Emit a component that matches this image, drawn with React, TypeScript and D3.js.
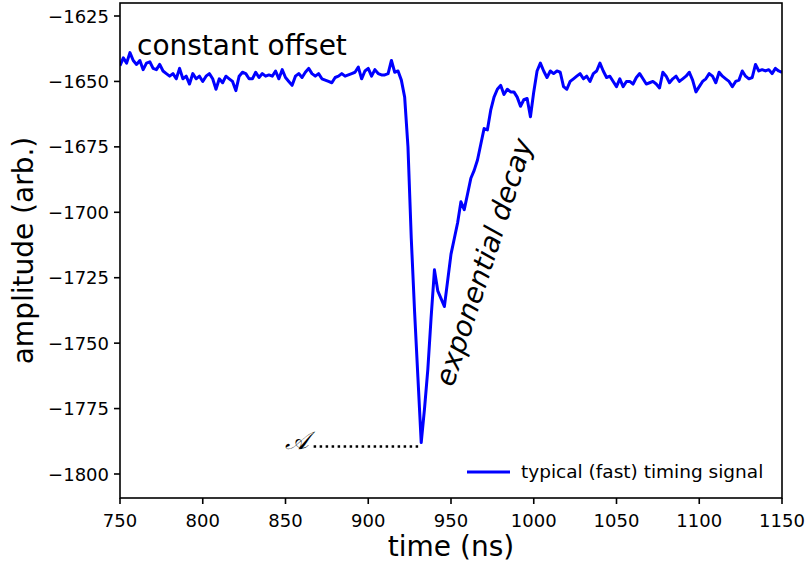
import React from "react";
import * as d3 from "d3";

const amplitude: number[] = [
  -1644, -1641, -1643, -1639, -1642, -1643.5, -1642, -1645.5, -1643, -1642.5,
  -1645, -1645.5, -1643.5, -1646, -1647, -1648, -1647, -1649, -1645, -1649,
  -1648, -1651, -1647, -1649, -1648, -1650, -1648, -1647, -1649, -1653,
  -1649, -1650.5, -1648, -1649, -1650, -1653.5, -1648, -1646.5, -1647, -1649,
  -1649, -1646.5, -1648.5, -1647, -1648, -1647.5, -1648, -1646, -1649, -1645.5,
  -1648.5, -1650, -1651.5, -1648, -1647, -1648.5, -1646.5, -1645, -1647, -1648,
  -1647, -1649, -1649.5, -1650, -1650.5, -1648.5, -1648, -1647, -1648, -1647.5,
  -1647, -1646.5, -1644.5, -1649, -1646, -1645, -1648, -1645.5, -1647, -1647.5,
  -1647.5, -1647, -1642, -1646.5, -1646, -1649.5, -1656, -1675, -1710, -1738,
  -1763, -1788, -1775, -1760, -1740, -1722, -1730, -1733, -1736, -1726,
  -1716, -1710, -1704, -1696, -1699, -1693, -1687, -1684, -1680, -1674,
  -1668, -1668.5, -1661, -1656, -1653, -1651.5, -1655, -1653, -1654, -1654,
  -1656, -1659.5, -1657, -1656.5, -1663.5, -1654, -1646, -1643, -1646, -1648.5,
  -1646, -1647, -1646, -1646.5, -1652, -1653, -1650, -1649, -1648, -1647,
  -1649, -1648, -1650, -1647, -1646, -1643, -1646, -1648.5, -1648, -1650,
  -1652, -1649, -1652, -1650, -1650, -1651, -1648.5, -1647, -1649, -1651,
  -1650.5, -1650, -1651, -1652.5, -1646.5, -1648, -1650.5, -1649, -1648, -1650,
  -1649, -1648, -1646.5, -1649.5, -1654, -1652, -1650, -1649, -1647, -1648,
  -1650.5, -1646.5, -1648, -1649, -1650, -1652, -1650, -1649.5, -1646, -1648,
  -1649, -1648.5, -1643.5, -1646, -1645.5, -1646, -1645.5, -1647, -1645, -1646,
  -1646.5,
];
const tStart = 750;
const tStep = 2;
const times: number[] = amplitude.map((_, i) => tStart + i * tStep);

const xTicks: number[] = [750, 800, 850, 900, 950, 1000, 1050, 1100, 1150];
const yTicks: number[] = [-1625, -1650, -1675, -1700, -1725, -1750, -1775, -1800];
const peakValue = -1789.5;
const peakTime = 932;
const markerStartTime = 867;

const W = 807;
const H = 568;
const left = 120;
const right = 782;
const top = 3;
const bottom = 498;

export default function App() {
  const x = d3.scaleLinear().domain([750, 1150]).range([left, right]);
  const yPerUnit = (474 - 16) / 175;
  const y = d3
    .scaleLinear()
    .domain([-1625 + (16 - top) / yPerUnit, -1800 - (bottom - 474) / yPerUnit])
    .range([top, bottom]);

  const line = d3
    .line<number>()
    .x((_, i) => x(times[i]))
    .y((d) => y(d));

  const font = "DejaVu Sans, sans-serif";
  const minus = (v: number) => (v < 0 ? "\u2212" + Math.abs(v) : String(v));

  return (
    <svg
      width={W}
      height={H}
      style={{ position: "absolute", left: 0, top: 0, background: "#fff" }}
      fontFamily={font}
    >
      <defs>
        <clipPath id="plotclip">
          <rect x={left} y={top} width={right - left} height={bottom - top} />
        </clipPath>
      </defs>
      <rect x={0} y={0} width={W} height={H} fill="#fff" />
      <path
        d={line(amplitude) || ""}
        fill="none"
        stroke="#0000ff"
        strokeWidth={3}
        strokeLinejoin="round"
        clipPath="url(#plotclip)"
      />
      {/* amplitude marker */}
      <line
        x1={x(markerStartTime)}
        x2={x(peakTime) - 3}
        y1={y(peakValue)}
        y2={y(peakValue)}
        stroke="#000"
        strokeWidth={2.5}
        strokeDasharray="2.5,3.5"
      />
      <text
        x={x(markerStartTime) - 29}
        y={y(peakValue) + 2}
        fontFamily="DejaVu Serif, serif"
        fontStyle="italic"
        fontSize={25}
        fill="#000"
      >
        𝒜
      </text>
      <text x={137} y={55} fontSize={28} fill="#000">
        constant offset
      </text>
      <text
        transform={`translate(493,265) rotate(-72)`}
        textAnchor="middle"
        fontSize={28}
        fontStyle="italic"
        fill="#000"
      >
        exponential decay
      </text>
      {/* legend */}
      <line x1={467} x2={510} y1={472} y2={472} stroke="#0000ff" strokeWidth={3} />
      <text x={521} y={478} fontSize={18.5} fill="#000">
        typical (fast) timing signal
      </text>
      {/* frame */}
      <rect
        x={left}
        y={top}
        width={right - left}
        height={bottom - top}
        fill="none"
        stroke="#000"
        strokeWidth={1.6}
      />
      {xTicks.map((t) => (
        <g key={t}>
          <line x1={x(t)} x2={x(t)} y1={bottom} y2={bottom + 6} stroke="#000" strokeWidth={1.6} />
          <text x={x(t)} y={bottom + 29} textAnchor="middle" fontSize={18} fill="#000">
            {t}
          </text>
        </g>
      ))}
      {yTicks.map((v) => (
        <g key={v}>
          <line x1={left - 6} x2={left} y1={y(v)} y2={y(v)} stroke="#000" strokeWidth={1.6} />
          <text x={left - 11} y={y(v) + 6.5} textAnchor="end" fontSize={18} fill="#000">
            {minus(v)}
          </text>
        </g>
      ))}
      <text x={(left + right) / 2} y={556} textAnchor="middle" fontSize={28} fill="#000">
        time (ns)
      </text>
      <text
        transform={`translate(33,${(top + bottom) / 2}) rotate(-90)`}
        textAnchor="middle"
        fontSize={28}
        fill="#000"
      >
        amplitude (arb.)
      </text>
    </svg>
  );
}
